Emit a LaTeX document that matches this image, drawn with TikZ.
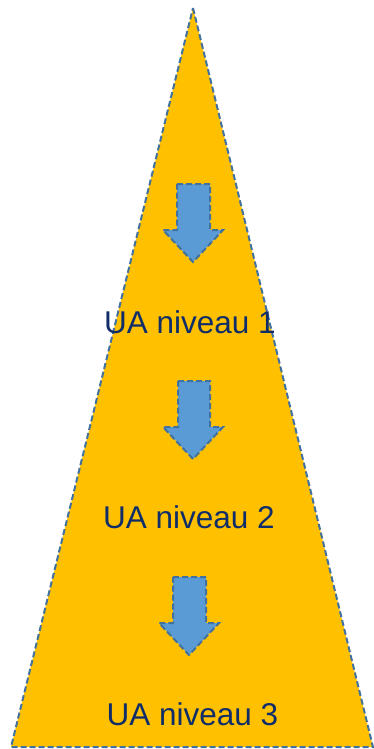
\documentclass[tikz,border=0pt]{standalone}
\usepackage{fontspec}
\setmainfont{Liberation Sans}
\definecolor{tri}{HTML}{FFC000}
\definecolor{edge}{HTML}{41719C}
\definecolor{arr}{HTML}{5B9BD5}
\definecolor{txt}{HTML}{0F2D69}
\begin{document}
\begin{tikzpicture}[x=1pt,y=-1pt,
  dashedge/.style={draw=edge,line width=2pt,dash pattern=on 6pt off 3pt,line join=miter},
  downarrow/.style={dashedge,fill=arr},
  lbl/.style={text=txt,font=\fontsize{31.5}{36}\selectfont,anchor=base,inner sep=0pt}]
\useasboundingbox (0,0) rectangle (374,749);
\coordinate (apex) at (193,8);
\coordinate (bl) at (11,747);
\coordinate (br) at (373,747);
\draw[dashedge,fill=tri] (apex) -- (br) -- (bl) -- cycle;
% arrow 1
\draw[downarrow] (177,184) -- (210,184) -- (210,230) -- (223,230) -- (193,262) -- (163,230) -- (177,230) -- cycle;
% arrow 2
\draw[downarrow] (178,381) -- (210,381) -- (210,427) -- (223,427) -- (193,459) -- (163,427) -- (178,427) -- cycle;
% arrow 3
\draw[downarrow] (173,577) -- (206,577) -- (206,623) -- (219,623) -- (189,655) -- (159,623) -- (173,623) -- cycle;
\node[lbl] (t1) at (190,333) {UA niveau 1};
\node[lbl] (t2) at (189,528) {UA niveau 2};
\node[lbl] (t3) at (192.5,725) {UA niveau 3};
\end{tikzpicture}
\end{document}
